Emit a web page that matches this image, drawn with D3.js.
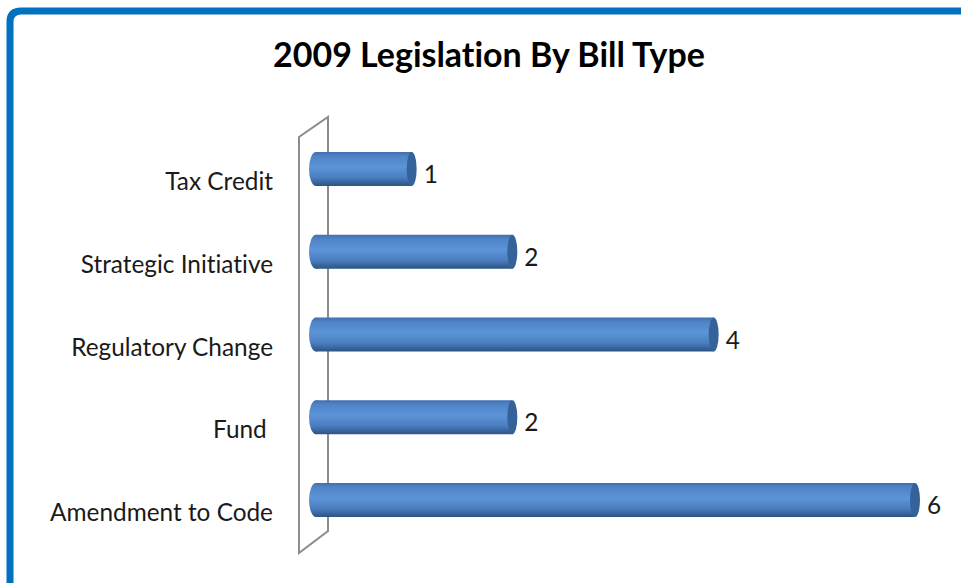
<!DOCTYPE html>
<html>
<head>
<meta charset="UTF-8">
<title>2009 Legislation By Bill Type</title>
<script src="https://d3js.org/d3.v7.min.js"></script>
<style>
  body { margin: 0; background: #fff; }
  svg text {
    font-family: Lato, "Open Sans", sans-serif; fill: #1a1a1a;
    font-variant-ligatures: none;
    font-feature-settings: "liga" 0, "clig" 0, "dlig" 0, "calt" 0;
  }
</style>
</head>
<body>
<svg id="chart" width="961" height="583"></svg>
<script>
// chart data, top to bottom
const categories = ["Tax Credit", "Strategic Initiative", "Regulatory Change", "Fund ", "Amendment to Code"];
const values = [1, 2, 4, 2, 6];
const chartTitle = "2009 Legislation By Bill Type";

const width = 961, height = 583;
const svg = d3.select("#chart");

// blue frame round the chart area
svg.append("path")
  .attr("d", "M10,600 L10,22 Q10,11 21,11 L980,11")
  .attr("fill", "none")
  .attr("stroke", "#0070c0")
  .attr("stroke-width", 7);

// scales
const x = d3.scaleLinear().domain([0, 6]).range([316, 920]);
const y = d3.scalePoint().domain(categories).range([169, 500]);
const half = 17, capR = 5;

// gradient for the cylinders
const defs = svg.append("defs");
const grad = defs.append("linearGradient")
  .attr("id", "cyl").attr("x1", 0).attr("y1", 0).attr("x2", 0).attr("y2", 1);
[[0, "#3f6fae"], [0.12, "#4f83c6"], [0.45, "#5c94d8"], [0.75, "#4a7ebf"], [1, "#2c5384"]]
  .forEach(s => grad.append("stop").attr("offset", s[0]).attr("stop-color", s[1]));

// side wall (3-D floor of the value axis)
const x0 = x(0);
svg.append("path")
  .attr("d", `M${x0 - 17},553 L${x0 - 17},137 L${x0 + 12},117 L${x0 + 12},531 Z`)
  .attr("fill", "none")
  .attr("stroke", "#8c8c8c")
  .attr("stroke-width", 2);

// title
const title = svg.append("text")
  .attr("x", 489).attr("y", 67)
  .attr("text-anchor", "middle")
  .style("font-weight", "bold")
  .style("font-size", "30px")
  .style("fill", "#000")
  .text(chartTitle);
const tw = title.node().getComputedTextLength();
title.style("font-size", (30 * 432 / tw) + "px");

// bars
const bars = svg.append("g").selectAll("g")
  .data(categories.map((c, i) => ({ cat: c, val: values[i] })))
  .join("g");

bars.append("ellipse")
  .attr("cx", x0).attr("cy", d => y(d.cat))
  .attr("rx", 7).attr("ry", half)
  .attr("fill", "url(#cyl)");

bars.append("rect")
  .attr("x", x0).attr("y", d => y(d.cat) - half)
  .attr("width", d => x(d.val) - capR - x0)
  .attr("height", half * 2)
  .attr("fill", "url(#cyl)");

bars.append("ellipse")
  .attr("cx", d => x(d.val) - capR).attr("cy", d => y(d.cat))
  .attr("rx", capR).attr("ry", half)
  .attr("fill", "#36629a");

// category labels
const catLabels = svg.append("g").selectAll("text")
  .data(categories)
  .join("text")
  .attr("x", 273)
  .attr("y", d => y(d) + 21)
  .attr("text-anchor", "end")
  .style("white-space", "pre")
  .style("font-size", "22px")
  .text(d => d);

// fit label size to the reference width of the longest one
const longest = catLabels.filter(d => d === "Amendment to Code").node().getComputedTextLength();
const labelSize = 22 * 223 / longest;
catLabels.style("font-size", labelSize + "px");

// value labels
svg.append("g").selectAll("text")
  .data(values)
  .join("text")
  .attr("x", d => x(d) + 7)
  .attr("y", (d, i) => y(categories[i]) + 14)
  .style("font-size", labelSize + "px")
  .text(d => d);
</script>
</body>
</html>
